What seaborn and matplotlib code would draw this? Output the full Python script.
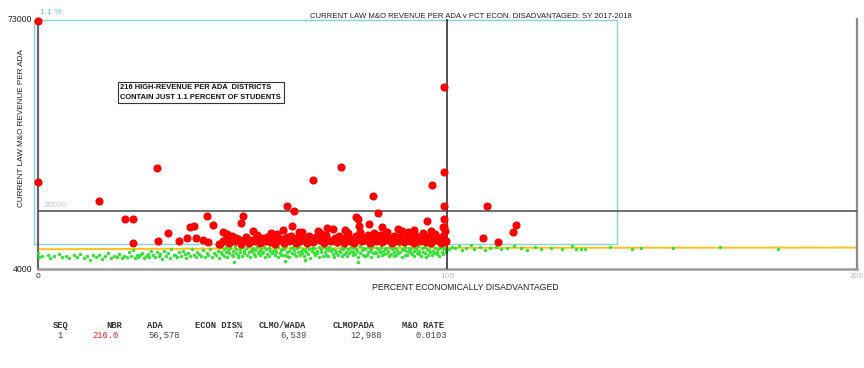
import matplotlib
matplotlib.use("Agg")
import matplotlib.pyplot as plt
import seaborn as sns
import pandas as pd

# ---------------- data ----------------
title = "CURRENT LAW M&O REVENUE PER ADA v PCT ECON. DISADVANTAGED: SY 2017-2018"
x_label = "PERCENT ECONOMICALLY DISADVANTAGED"
y_label = "CURRENT LAW M&O REVENUE PER ADA"
x_ticks = [0, 100, 200]
y_ticks = [4000, 73000]
ref_x = 100
ref_y = 20000
box_x0, box_x1, box_y0, box_y1 = -0.8, 141.5, 10900, 72700
trend_x = [0, 100, 200]
trend_y = [9450, 9850, 9900]
note_text = "216 HIGH-REVENUE PER ADA  DISTRICTS\nCONTAIN JUST 1.1 PERCENT OF STUDENTS"
pct_text = "1.1 %"

table_headers = ["SEQ", "NBR", "ADA", "ECON DIS%", "CLMO/WADA", "CLMOPADA", "M&O RATE"]
table_values = ["1", "216.0", "56,578", "74", "6,539", "12,988", "0.0103"]

# high-revenue districts (red)
red_x = [0.0, 0.0, 29.1, 15.0, 21.3, 23.3, 23.3, 99.1, 99.1, 96.4,
         99.1, 99.1, 99.3, 95.0, 109.8, 116.9, 116.0, 108.7, 112.3, 81.8,
         83.0, 74.0, 67.2, 60.8, 62.6, 62.0, 63.8, 50.1, 49.6, 77.7,
         78.2, 81.0, 70.6, 85.2, 90.4, 41.3, 42.8, 37.2, 38.2, 31.8,
         29.4, 34.5, 36.5, 38.6, 40.4, 41.6, 44.3, 45.2, 46.2, 48.4,
         44.5, 45.2, 46.0, 46.8, 47.5, 48.3, 49.0, 49.6, 50.3, 51.0,
         51.7, 52.3, 53.0, 53.6, 54.2, 54.9, 55.5, 56.1, 56.7, 57.3,
         57.9, 58.5, 59.0, 59.6, 60.2, 60.8, 61.3, 61.9, 62.4, 63.0,
         63.5, 64.1, 64.6, 65.2, 65.7, 66.3, 66.8, 67.3, 67.9, 68.4,
         68.9, 69.5, 70.0, 70.5, 71.0, 71.6, 72.1, 72.6, 73.1, 73.6,
         74.1, 74.7, 75.2, 75.7, 76.2, 76.7, 77.2, 77.7, 78.2, 78.7,
         79.2, 79.7, 80.2, 80.7, 81.2, 81.7, 82.2, 82.7, 83.1, 83.6,
         84.1, 84.6, 85.1, 85.5, 86.0, 86.5, 87.0, 87.5, 88.0, 88.4,
         88.9, 89.4, 89.9, 90.4, 90.9, 91.3, 91.8, 92.3, 92.8, 93.3,
         93.7, 94.2, 94.7, 95.2, 95.7, 96.1, 96.6, 97.1, 97.6, 98.0,
         98.5, 98.9, 99.2, 99.5, 99.0, 99.4, 98.2, 97.3, 96.0, 57.0,
         60.0, 69.0, 75.0, 88.0, 84.0, 78.5, 52.5, 64.0, 92.0, 99.8]
red_y = [72500, 28000, 32000, 22900, 17900, 17900, 11300, 54200, 30800, 27300,
         21400, 17800, 15500, 17200, 21400, 16100, 14300, 12600, 11500, 24100,
         19500, 32200, 28600, 21400, 20000, 15900, 14200, 18600, 16700, 18300,
         17800, 16400, 15300, 14200, 14200, 18600, 16100, 15600, 15900, 13900,
         11700, 11700, 12600, 12600, 12000, 11500, 11000, 14200, 13700, 12600,
         11000, 11800, 12400, 11200, 13000, 11600, 12200, 11000, 11900, 12800,
         11300, 12100, 11700, 13300, 11100, 12500, 11800, 12900, 11400, 12200,
         11000, 13600, 11900, 12400, 11200, 12900, 11600, 13100, 12100, 11300,
         12700, 11800, 14200, 12300, 11100, 13000, 12000, 11500, 12800, 14600,
         11900, 12500, 11200, 13400, 12100, 11700, 15000, 12600, 11400, 13200,
         12000, 11100, 12900, 13800, 11800, 12400, 11300, 13100, 12200, 14300,
         11600, 12800, 11900, 13500, 11200, 12600, 14000, 11800, 12300, 13300,
         11500, 12700, 14200, 11900, 12400, 11300, 13000, 12000, 11600, 12900,
         14500, 11400, 12300, 13400, 11800, 12600, 11100, 13100, 12100, 11700,
         12800, 14000, 11500, 12400, 13000, 11300, 12200, 13600, 11900, 12600,
         11200, 13200, 12000, 14400, 15600, 11500, 11800, 12900, 14600, 13800,
         14800, 13900, 14700, 15100, 15500, 15800, 14400, 13600, 14800, 11600]

# remaining districts (green)
green_x_low = [0.0, 0.3, 1.2, 2.5, 3.1, 4.0, 5.2, 6.1, 7.0, 7.8,
               8.9, 9.6, 10.4, 11.3, 12.0, 12.8, 13.5, 14.2, 15.0, 15.7,
               16.5, 17.2, 17.9, 18.6, 19.3, 20.0, 20.6, 21.2, 21.9, 22.4,
               22.8, 23.3, 23.7, 24.2, 24.6, 25.1, 25.5, 26.0, 26.4, 26.9,
               27.3, 27.8, 28.2, 28.7, 29.1, 29.6, 30.0, 30.5, 30.9, 31.4,
               31.8, 32.3, 32.7, 33.2, 33.6, 34.1, 34.5, 35.0, 35.4, 35.9,
               36.3, 36.8, 37.2, 37.7, 38.1, 38.6, 39.0, 39.5, 39.9, 40.4,
               40.8, 41.3, 41.7, 42.2, 42.6, 43.1, 43.5, 44.0, 44.4, 44.9]
green_y_low = [8400, 7200, 7600, 7900, 7000, 7500, 8100, 7300, 7700, 6900,
               7800, 7400, 8200, 7100, 7600, 6500, 8000, 7300, 7900, 6800,
               7500, 8300, 7000, 7700, 7400, 8100, 6900, 7600, 7200, 8800,
               7600, 9300, 7100, 8000, 7400, 7800, 8500, 6900, 7700, 8200,
               7300, 9000, 7900, 7200, 8600, 7500, 8100, 6800, 8900, 7600,
               8300, 7100, 9400, 7800, 8000, 7300, 8700, 7500, 9100, 8200,
               7000, 8400, 7700, 9500, 7900, 7200, 8800, 8100, 7600, 9200,
               7400, 8500, 8000, 9600, 7300, 8300, 7800, 9000, 7100, 8600]

green_x_mid = [45.1, 45.4, 45.5, 45.9, 46.0, 46.2, 46.6, 46.7, 47.1, 47.4,
               47.6, 47.7, 48.1, 48.4, 48.5, 48.9, 49.0, 49.3, 49.5, 49.9,
               50.0, 50.4, 50.5, 50.8, 51.2, 51.3, 51.7, 51.8, 52.1, 52.4,
               52.6, 52.8, 53.1, 53.2, 53.6, 53.8, 54.1, 54.3, 54.6, 54.9,
               55.0, 55.3, 55.6, 55.7, 56.1, 56.4, 56.5, 56.8, 57.2, 57.3,
               57.5, 57.9, 58.0, 58.3, 58.6, 58.7, 59.1, 59.4, 59.5, 59.8,
               60.1, 60.2, 60.6, 60.8, 61.0, 61.4, 61.5, 61.9, 62.0, 62.3,
               62.6, 62.7, 63.0, 63.4, 63.5, 63.9, 64.1, 64.2, 64.6, 64.9,
               65.0, 65.3, 65.6, 65.8, 66.1, 66.3, 66.5, 66.9, 67.0, 67.4,
               67.5, 67.8, 68.1, 68.2, 68.6, 68.8, 69.1, 69.3, 69.6, 69.7,
               70.1, 70.3, 70.5, 70.9, 71.0, 71.2, 71.6, 71.8, 72.1, 72.4,
               72.5, 72.8, 73.1, 73.3, 73.5, 73.9, 74.0, 74.4, 74.6, 74.8,
               75.1, 75.2, 75.6, 75.8, 76.0, 76.4, 76.5, 76.9, 77.1, 77.3,
               77.6, 77.8, 78.0, 78.3, 78.6, 78.7, 79.1, 79.4, 79.5, 79.9,
               80.0, 80.3, 80.6, 80.7, 81.1, 81.3, 81.5, 81.9, 82.0, 82.4,
               82.5, 82.9, 83.0, 83.3, 83.6, 83.8, 84.1, 84.2, 84.6, 84.8,
               85.1, 85.4, 85.5, 85.8, 86.1, 86.2, 86.5, 86.9, 87.0, 87.3,
               87.6, 87.7, 88.1, 88.3, 88.5, 88.9, 89.0, 89.4, 89.6, 89.7,
               90.1, 90.2, 90.6, 90.8, 91.0, 91.3, 91.6, 91.9, 92.0, 92.4,
               92.5, 92.8, 93.1, 93.2, 93.6, 93.8, 94.0, 94.4, 94.5, 94.9,
               95.1, 95.3, 95.5, 95.8, 96.1, 96.3, 96.6, 96.7, 97.0, 97.4,
               97.6, 97.8, 98.1, 98.2, 98.6, 98.9, 99.0, 99.3, 99.6, 99.8]
green_y_mid = [8200, 9500, 7600, 10100, 8800, 7300, 9200, 8500, 9900, 7900,
               9000, 7700, 10300, 8400, 9600, 8000, 7200, 9400, 8700, 10000,
               7500, 9100, 8300, 9800, 7900, 10400, 8600, 7400, 9300, 8900,
               9700, 8100, 7600, 9200, 10200, 8500, 9000, 7800, 9500, 8300,
               8700, 10100, 7300, 9400, 8200, 9800, 7700, 8900, 10500, 8400,
               9100, 7900, 9600, 8600, 7400, 10000, 8300, 9300, 7800, 9700,
               8000, 9400, 10300, 7600, 8800, 9100, 7200, 9900, 8500, 10100,
               9300, 8200, 7700, 9800, 8600, 10400, 7900, 9000, 8400, 9600,
               7500, 9200, 8700, 10200, 8100, 9500, 6900, 8900, 9800, 8300,
               9900, 7800, 9100, 8500, 10000, 7400, 9400, 8800, 7700, 10300,
               8600, 9700, 8000, 9300, 7600, 10100, 8900, 9500, 8200, 7300,
               9200, 8400, 10500, 7900, 9000, 8700, 9800, 7500, 9400, 8100,
               10000, 8800, 7700, 9600, 8300, 9100, 10200, 7800, 8600, 9900,
               8100, 9500, 8900, 7400, 10300, 8500, 9200, 8000, 9700, 7600,
               9400, 7900, 10100, 8700, 9000, 7300, 9600, 8400, 10400, 8800,
               8300, 9800, 7600, 9300, 8600, 10000, 7800, 9100, 8200, 9500,
               9700, 8500, 9000, 7700, 10200, 8100, 9400, 8800, 7500, 9900,
               7900, 9200, 8400, 10500, 8700, 9600, 7400, 9300, 8000, 10100,
               9100, 7800, 9800, 8600, 9400, 8200, 10000, 7600, 8900, 9500,
               8500, 10300, 8100, 9000, 7700, 9700, 8800, 10100, 8300, 7300,
               9600, 8000, 9300, 8700, 10400, 7900, 9100, 8400, 9800, 8600,
               8200, 9500, 7500, 9900, 8800, 10200, 8100, 9400, 8600, 9000]

green_x_high = [100.4, 101.2, 102.0, 102.9, 103.7, 104.5, 105.8, 106.6, 108.0, 109.3,
                110.5, 111.8, 113.0, 114.6, 116.2, 118.0, 119.5, 121.3, 123.0, 125.4,
                127.9, 130.5, 131.3, 132.6, 133.5, 139.6, 145.0, 147.2, 155.0, 166.5,
                180.6, 48.0, 60.5, 78.3, 65.2]
green_y_high = [9400, 10100, 9700, 10300, 9200, 9900, 10500, 9600, 10000, 9300,
                9800, 10200, 9500, 9900, 10400, 9700, 9300, 10000, 9600, 9800,
                9500, 10300, 9400, 9600, 9500, 10000, 9600, 9900, 9800, 10100,
                9500, 6000, 6200, 5800, 6500]

# ---------------- figure ----------------
sns.set_theme(style="white")
plt.rcParams['font.family'] = ['Liberation Sans', 'DejaVu Sans']

W, H = 864, 368
fig = plt.figure(figsize=(W / 100, H / 100), dpi=100)
ax_l, ax_r, ax_t, ax_b = 37.5, 857, 19, 269
ax = fig.add_axes([ax_l / W, 1 - ax_b / H, (ax_r - ax_l) / W, (ax_b - ax_t) / H])

green_df = pd.DataFrame({
    "x": green_x_low + green_x_mid + green_x_high,
    "y": green_y_low + green_y_mid + green_y_high,
})
red_df = pd.DataFrame({"x": red_x, "y": red_y})
trend_df = pd.DataFrame({"x": trend_x, "y": trend_y})

# reference box (cyan)
ax.plot([box_x0, box_x1, box_x1, box_x0, box_x0],
        [box_y0, box_y0, box_y1, box_y1, box_y0],
        color="#86d2da", lw=1.0, clip_on=False, zorder=1)

sns.lineplot(data=trend_df, x="x", y="y", ax=ax, color="#ffc21a", lw=1.4, zorder=2)
sns.scatterplot(data=green_df, x="x", y="y", ax=ax, color="#2ee62e", s=6,
                linewidth=0, zorder=3)
ax.axhline(ref_y, color="#555555", lw=1.2, zorder=4)
ax.axvline(ref_x, color="#333333", lw=1.2, zorder=4)
sns.scatterplot(data=red_df, x="x", y="y", ax=ax, color="#ff0000", s=34,
                linewidth=0, zorder=5)
for c in ax.collections:
    c.set_clip_on(False)

ax.set_xlim(0, 200)
ax.set_ylim(4000, 73000)
ax.set_xticks(x_ticks)
ax.set_xticklabels([str(v) for v in x_ticks], fontsize=6)
for lab, col in zip(ax.get_xticklabels(), ["#222222", "#c0c0c0", "#c0c0c0"]):
    lab.set_color(col)
ax.set_yticks(y_ticks)
ax.set_yticklabels([str(v) for v in y_ticks], fontsize=6.3, color="#222222")
ax.tick_params(axis="both", length=0, pad=4)
ax.tick_params(axis="x", pad=3)
ax.set_xlabel("")
ax.set_ylabel("")

ax.spines["top"].set_visible(False)
ax.spines["left"].set_color("#666666")
ax.spines["left"].set_linewidth(1.6)
ax.spines["bottom"].set_color("#9a9a9a")
ax.spines["bottom"].set_linewidth(1.8)
ax.spines["right"].set_color("#8a8a8a")
ax.spines["right"].set_linewidth(1.6)

# texts
fig.text(471 / W, 1 - 16 / H, title, fontsize=5.6, ha="center", va="center", color="#222222")
fig.text(465 / W, 1 - 287 / H, x_label, fontsize=6.2, ha="center", va="center", color="#222222")
fig.text(22 / W, 1 - 128 / H, y_label, fontsize=5.9, rotation=90, ha="center", va="center",
         color="#222222")
fig.text(40 / W, 1 - 13 / H, pct_text, fontsize=6, ha="left", va="center", color="#6cc8d2")
ax.text(1.6, ref_y + 600, str(ref_y), fontsize=6, ha="left", va="bottom", color="#c8c8c8")
ax.text(20.2, 52700, note_text, fontsize=5.4, fontweight="bold", ha="left", va="center",
        linespacing=1.5, color="#111111",
        bbox=dict(boxstyle="square,pad=0.35", fc="white", ec="#333333", lw=0.8))

# table
head_left = [53, 106, 147, 195, 259, 333, 402]
val_right = [63, 119, 180, 244, 307, 382, 447]
for h, xl in zip(table_headers, head_left):
    fig.text(xl / W, 1 - 325 / H, h, fontsize=6.3, family="Liberation Mono",
             fontweight="bold", ha="left", va="center", color="#333333")
for i, (v, xr) in enumerate(zip(table_values, val_right)):
    fig.text(xr / W, 1 - 335.5 / H, v, fontsize=6.3, family="Liberation Mono",
             ha="right", va="center", color="#ee2222" if i == 1 else "#444444")

fig.savefig("out.png", dpi=100)
